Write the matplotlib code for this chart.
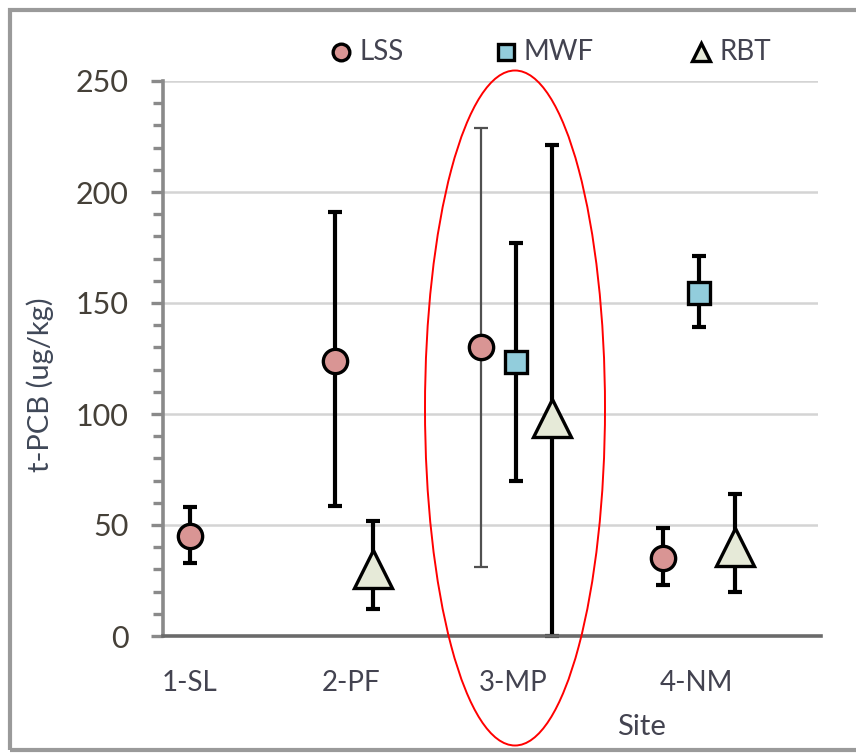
import numpy as np
import matplotlib.pyplot as plt
from matplotlib.patches import Ellipse, Rectangle
from matplotlib.ticker import MultipleLocator

plt.rcParams['font.family'] = ['Lato', 'DejaVu Sans']

sites = ['1-SL', '2-PF', '3-MP', '4-NM']
site_x = [0.16, 1.14, 2.13, 3.24]

# x position, mean, upper end, lower end
lss_x = [0.164, 1.046, 1.933, 3.04]
lss_y = [45, 124, 130, 35]
lss_hi = [58, 191, 229, 48.5]
lss_lo = [33, 58.5, 31, 23]

mwf_x = [2.146, 3.258]
mwf_y = [123.5, 154.5]
mwf_hi = [177, 171]
mwf_lo = [70, 139]

rbt_x = [1.277, 2.365, 3.477]
rbt_y = [30, 98, 40]
rbt_hi = [52, 221, 64]
rbt_lo = [12, 0, 20]

W, H = 856, 753
fig = plt.figure(figsize=(W / 100, H / 100), dpi=100)
ax = fig.add_axes([163 / W, 1 - 636 / H, (818 - 163) / W, (636 - 81) / H])

ax.set_xlim(0, 3.98)
ax.set_ylim(0, 250)

for y in range(50, 251, 50):
    ax.axhline(y, color='#d4d4d4', lw=1.8, zorder=0)


def series(xs, ys, hi, lo, marker, ms, fc, lws=None):
    for i, (x, y, h, l) in enumerate(zip(xs, ys, hi, lo)):
        lw = 3 if lws is None else lws[i]
        col = 'black' if lw > 2 else '#505050'
        ax.errorbar([x], [y], yerr=[[y - l], [h - y]], fmt='none', ecolor=col,
                    elinewidth=lw, capsize=5, capthick=lw, zorder=2, clip_on=False)
        ax.plot([x], [y], marker=marker, ms=ms, mfc=fc, mec='black', mew=2.4,
                ls='none', zorder=3, clip_on=False)


series(lss_x, lss_y, lss_hi, lss_lo, 'o', 17.5, '#d99594', lws=[3, 3, 1.6, 3])
series(mwf_x, mwf_y, mwf_hi, mwf_lo, 's', 16.5, '#92cddc')
series(rbt_x, rbt_y, rbt_hi, rbt_lo, '^', 28, '#e6ead8')

for s in ['top', 'right']:
    ax.spines[s].set_visible(False)
ax.spines['left'].set_color('#8a8a8a')
ax.spines['left'].set_linewidth(2.6)
ax.spines['bottom'].set_color('#6a6a6a')
ax.spines['bottom'].set_linewidth(2.6)
ax.spines['bottom'].set_bounds(0, 3.98 + 0.02)

ax.yaxis.set_major_locator(MultipleLocator(50))
ax.yaxis.set_minor_locator(MultipleLocator(10))
ax.tick_params(axis='y', which='major', length=9, width=2.4, color='#8a8a8a',
               labelsize=22, labelcolor='#454038', pad=16)
ax.tick_params(axis='y', which='minor', length=7, width=2.4, color='#8a8a8a')
ax.set_xticks([])

txt = '#434350'
for lab, x in zip(sites, site_x):
    ax.text(x, -21, lab, ha='center', va='center', fontsize=20,
            color=txt, clip_on=False)
ax.text(2.91, -41, 'Site', ha='center', va='center', fontsize=21,
        color=txt, clip_on=False)
fig.text(40 / W, 1 - 385 / H, 't-PCB (ug/kg)', rotation=90, ha='center',
         va='center', fontsize=21, color='#404858')

# legend row at top
leg = [('LSS', 'o', 12, '#d99594', 341), ('MWF', 's', 12, '#92cddc', 506),
       ('RBT', '^', 13, '#e6ead8', 701)]
for name, mk, ms, fc, px in leg:
    fig.lines.append(plt.Line2D([px / W], [1 - 52 / H], marker=mk, ms=ms, mfc=fc,
                                mec='black', mew=2.4, transform=fig.transFigure))
    fig.text((px + 18) / W, 1 - 52 / H, name, ha='left', va='center',
             fontsize=20, color=txt)

# outer frame and highlight ellipse
fig.patches.append(Rectangle((10 / W, 3 / H), 1.0, 1 - 13 / H, fill=False,
                             ec='#9a9a9a', lw=3, transform=fig.transFigure))
fig.patches.append(Ellipse((515 / W, 1 - 408 / H), 180 / W, 675 / H, fill=False,
                           ec='red', lw=1.4, transform=fig.transFigure))

fig.savefig('out.png', dpi=100, facecolor='white')
